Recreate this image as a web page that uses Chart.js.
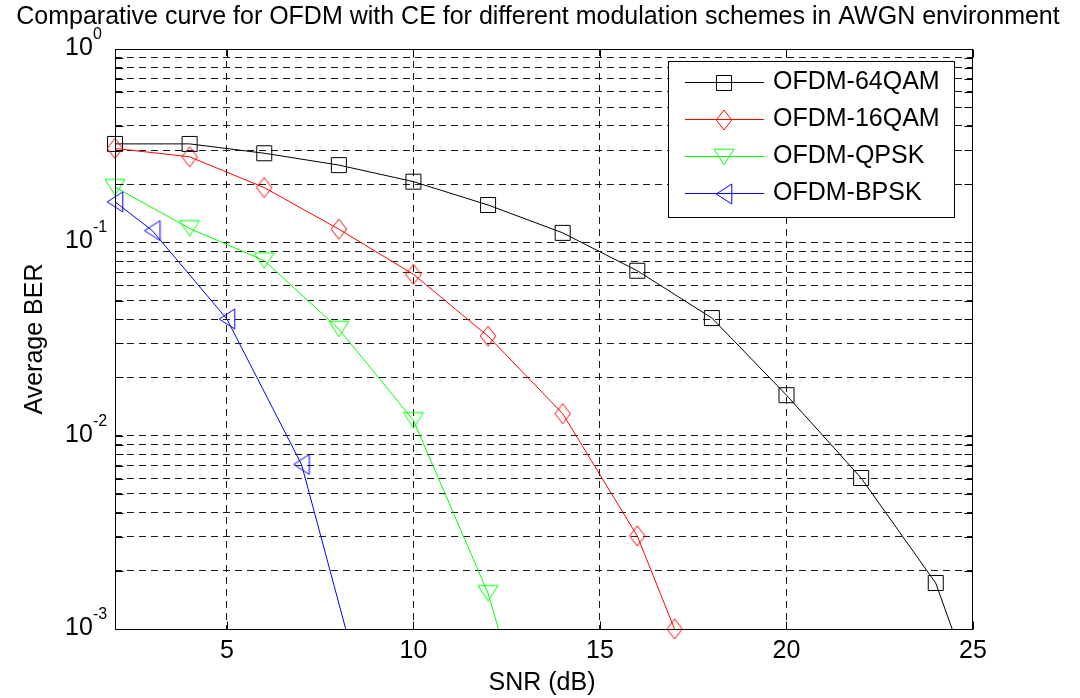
<!DOCTYPE html>
<html>
<head>
<meta charset="utf-8">
<script src="https://cdn.jsdelivr.net/npm/chart.js@4.4.0/dist/chart.umd.min.js"></script>
<style>
  html, body { margin: 0; padding: 0; background: #fff; }
  #wrap { width: 1080px; height: 698px; }
</style>
</head>
<body>
<div id="wrap"><canvas id="myChart" width="1080" height="698"></canvas></div>
<script>
// values (BER on a log axis)
const snr64 = [2, 4, 6, 8, 10, 12, 14, 16, 18, 20, 22, 24, 26];
const ber64 = [0.323, 0.323, 0.289, 0.251, 0.206, 0.156, 0.112, 0.0713, 0.0406, 0.0162, 0.00604, 0.00173, 0.000144];
const snr16 = [2, 4, 6, 8, 10, 12, 14, 16, 17];
const ber16 = [0.306, 0.277, 0.192, 0.117, 0.0683, 0.0327, 0.0130, 0.00303, 0.001];
const snrQpsk = [2, 4, 6, 8, 10, 12, 14];
const berQpsk = [0.193, 0.118, 0.0805, 0.0356, 0.0120, 0.00153, 0.000074];
const snrBpsk = [2, 3, 5, 7, 9];
const berBpsk = [0.162, 0.115, 0.0401, 0.0071, 0.00026];

const seriesNames = ['OFDM-64QAM', 'OFDM-16QAM', 'OFDM-QPSK', 'OFDM-BPSK'];
const seriesColors = ['#000000', '#ff0000', '#00ff00', '#0000ff'];

const xTicks = [5, 10, 15, 20, 25];
const yDecades = [1, 0.1, 0.01, 0.001];
const yMinor = [2, 3, 4, 5, 6, 7, 8, 9];

const FONT = '"Liberation Sans", Arial, Helvetica, sans-serif';

// every grid value on the log axis: decades plus 2..9 in between
const yGrid = [];
yDecades.forEach(d => {
  yGrid.push(d);
  if (d < 1) yMinor.forEach(m => yGrid.push(m * d));
});

// matlab-like hollow markers
function makeMarker(shape, color) {
  const c = document.createElement('canvas');
  c.width = 24; c.height = 24;
  const g = c.getContext('2d');
  g.strokeStyle = color;
  g.lineWidth = 1;
  g.beginPath();
  if (shape === 'square') {
    g.rect(4.5, 4.5, 15, 15);
  } else if (shape === 'diamond') {
    g.moveTo(12, 2); g.lineTo(19.7, 12); g.lineTo(12, 22); g.lineTo(4.3, 12); g.closePath();
  } else if (shape === 'down') {
    g.moveTo(2, 4.2); g.lineTo(22, 4.2); g.lineTo(12, 19.8); g.closePath();
  } else {
    g.moveTo(4.2, 12); g.lineTo(19.8, 2); g.lineTo(19.8, 22); g.closePath();
  }
  g.stroke();
  return c;
}

const markers = [
  makeMarker('square', seriesColors[0]),
  makeMarker('diamond', seriesColors[1]),
  makeMarker('down', seriesColors[2]),
  makeMarker('left', seriesColors[3])
];

const xs = [snr64, snr16, snrQpsk, snrBpsk];
const ys = [ber64, ber16, berQpsk, berBpsk];

function toPoints(a, b) {
  return a.map((v, i) => ({ x: v, y: b[i] }));
}

// line and markers go in separate datasets: lines are clipped to the axes,
// markers are not (matlab lets them hang over the box)
const datasets = [];
for (let i = 3; i >= 0; i--) {
  datasets.push({
    label: seriesNames[i],
    data: toPoints(xs[i], ys[i]),
    borderColor: seriesColors[i],
    borderWidth: 1,
    pointRadius: 0,
    tension: 0,
    fill: false,
    clip: 0
  });
  datasets.push({
    label: seriesNames[i] + ' markers',
    data: toPoints(xs[i], ys[i]),
    showLine: false,
    pointStyle: markers[i],
    pointRadius: 8,
    borderColor: seriesColors[i],
    backgroundColor: 'transparent',
    clip: false
  });
}

const overlay = {
  id: 'overlay',
  afterDraw(chart) {
    const ctx = chart.ctx;
    const a = chart.chartArea;
    const x = chart.scales.x;
    const y = chart.scales.y;
    const L = Math.round(a.left) + 0.5;
    const R = Math.round(a.right) - 0.5;
    const T = Math.round(a.top) + 0.5;
    const B = Math.round(a.bottom) + 0.5;
    ctx.save();
    ctx.strokeStyle = '#000';
    ctx.lineWidth = 1;
    ctx.setLineDash([]);

    // inner ticks
    ctx.beginPath();
    xTicks.forEach(v => {
      const px = Math.round(x.getPixelForValue(v)) + 0.5;
      ctx.moveTo(px, B); ctx.lineTo(px, B - 8);
      ctx.moveTo(px, T); ctx.lineTo(px, T + 8);
    });
    yGrid.forEach(v => {
      const py = Math.round(y.getPixelForValue(v)) + 0.5;
      ctx.moveTo(L, py); ctx.lineTo(L + 8, py);
      ctx.moveTo(R, py); ctx.lineTo(R - 8, py);
    });
    ctx.stroke();

    // box
    ctx.strokeRect(L, T, R - L, B - T);

    // y tick labels 10^n
    ctx.fillStyle = '#000';
    ctx.textAlign = 'left';
    ctx.textBaseline = 'alphabetic';
    yDecades.forEach(d => {
      const py = y.getPixelForValue(d);
      ctx.font = '25px ' + FONT;
      ctx.fillText('10', 65, py + 6);
      ctx.font = '16px ' + FONT;
      ctx.fillText(String(Math.round(Math.log10(d))), 93, py - 10);
    });

    // titles
    ctx.font = '25px ' + FONT;
    ctx.textAlign = 'center';
    ctx.fillText('Comparative curve for OFDM with CE for different modulation schemes in AWGN environment', 538, 24);
    ctx.fillText('SNR (dB)', 542, 690);
    ctx.save();
    ctx.translate(41.5, 339);
    ctx.rotate(-Math.PI / 2);
    ctx.fillText('Average BER', 0, 0);
    ctx.restore();

    // legend
    ctx.fillStyle = '#fff';
    ctx.fillRect(668, 61, 286, 156);
    ctx.strokeStyle = '#000';
    ctx.strokeRect(668.5, 61.5, 286, 156);
    ctx.textAlign = 'left';
    ctx.textBaseline = 'middle';
    seriesNames.forEach((name, i) => {
      const ly = 82.5 + 37 * i;
      ctx.strokeStyle = seriesColors[i];
      ctx.beginPath();
      ctx.moveTo(685, ly); ctx.lineTo(764, ly);
      ctx.stroke();
      const m = markers[i];
      ctx.drawImage(m, 724 - m.width / 2, Math.round(ly) - m.height / 2);
      ctx.fillStyle = '#000';
      ctx.fillText(name, 773, ly);
    });
    ctx.restore();
  }
};

new Chart(document.getElementById('myChart'), {
  type: 'line',
  data: { datasets: datasets },
  options: {
    responsive: false,
    devicePixelRatio: 1,
    animation: false,
    events: [],
    layout: { padding: { top: 49, right: 107, left: 0, bottom: 0 } },
    plugins: {
      legend: { display: false },
      tooltip: { enabled: false },
      title: { display: false }
    },
    scales: {
      x: {
        type: 'linear',
        min: 2,
        max: 25,
        afterBuildTicks: s => { s.ticks = xTicks.map(v => ({ value: v })); },
        afterFit: s => { s.height = 69; },
        grid: {
          drawTicks: false,
          color: c => (c.tick && c.tick.value === 25) ? 'rgba(0,0,0,0)' : '#1a1a1a',
          lineWidth: 1
        },
        border: { display: false, dash: [7, 5] },
        ticks: {
          color: '#000',
          padding: 7,
          maxRotation: 0,
          font: { family: FONT, size: 25 }
        }
      },
      y: {
        type: 'logarithmic',
        min: 0.001,
        max: 1,
        afterBuildTicks: s => { s.ticks = yGrid.map(v => ({ value: v })); },
        afterFit: s => { s.width = 115; },
        grid: { drawTicks: false, color: '#1a1a1a', lineWidth: 1 },
        border: { display: false, dash: [7, 5] },
        ticks: { display: false }
      }
    }
  },
  plugins: [overlay]
});
</script>
</body>
</html>
